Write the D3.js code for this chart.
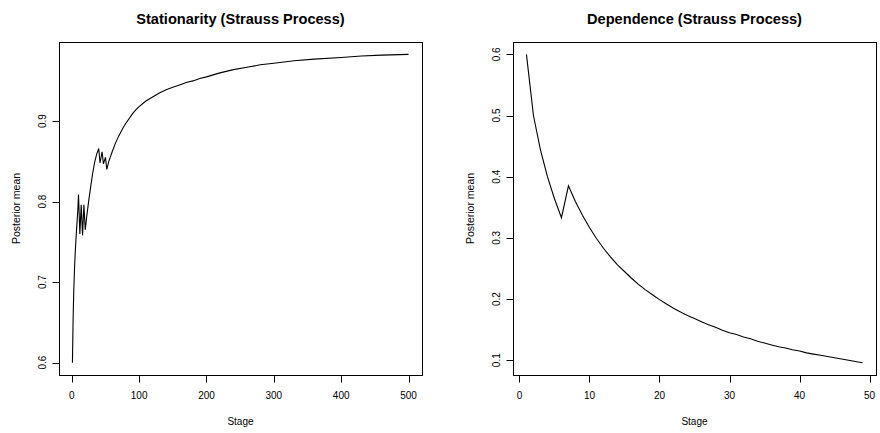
<!DOCTYPE html>
<html>
<head>
<meta charset="utf-8">
<script src="https://cdn.jsdelivr.net/npm/d3@7"></script>
<style>
  body { margin: 0; background: #fff; }
  text { font-family: "Liberation Sans", Arial, Helvetica, sans-serif; fill: #000; }
</style>
</head>
<body>
<svg id="chart" width="880" height="433"></svg>
<script>
// Stationarity panel
var statStage = [1, 2, 3, 4, 5, 6, 7, 8, 9, 10, 12, 14, 16, 18, 20, 22, 25, 28, 31, 34, 37, 40,
  42, 45, 47, 50, 52, 55, 60, 65, 70, 75, 80, 85, 90, 95, 100, 110, 120, 130, 140, 150, 160,
  170, 180, 190, 200, 220, 240, 260, 280, 300, 330, 360, 400, 430, 460, 500];
var statMean = [0.600, 0.655, 0.690, 0.715, 0.735, 0.750, 0.764, 0.777, 0.790, 0.809, 0.760,
  0.796, 0.758, 0.796, 0.765, 0.780, 0.800, 0.818, 0.835, 0.849, 0.859, 0.866, 0.848, 0.862,
  0.847, 0.855, 0.840, 0.850, 0.862, 0.873, 0.882, 0.890, 0.897, 0.903, 0.909, 0.914, 0.918,
  0.925, 0.930, 0.935, 0.939, 0.942, 0.945, 0.948, 0.950, 0.953, 0.955, 0.960, 0.964, 0.967,
  0.970, 0.972, 0.975, 0.977, 0.979, 0.981, 0.982, 0.983];

// Dependence panel, stages 1..49
var depStage = d3.range(1, 50);
var depMean = [0.600, 0.500, 0.444, 0.400, 0.364, 0.333, 0.385, 0.359, 0.337, 0.317, 0.299,
  0.283, 0.269, 0.256, 0.245, 0.234, 0.224, 0.215, 0.207, 0.199, 0.192, 0.185, 0.179, 0.173,
  0.168, 0.163, 0.158, 0.154, 0.149, 0.145, 0.142, 0.138, 0.135, 0.131, 0.128, 0.125, 0.122,
  0.120, 0.117, 0.115, 0.112, 0.110, 0.108, 0.106, 0.104, 0.102, 0.100, 0.098, 0.096];

var statXTicks = [0, 100, 200, 300, 400, 500];
var statYTicks = [0.6, 0.7, 0.8, 0.9];
var depXTicks = [0, 10, 20, 30, 40, 50];
var depYTicks = [0.1, 0.2, 0.3, 0.4, 0.5, 0.6];

var svg = d3.select('#chart');

// R style 4% padding on the data range
function padded(vals) {
  var ext = d3.extent(vals), r = ext[1] - ext[0];
  return [ext[0] - 0.04 * r, ext[1] + 0.04 * r];
}

function panel(offX, title, xs, ys, xTicks, yTicks) {
  var left = 59 + offX, right = 422 + offX, top = 42, bottom = 375;

  var x = d3.scaleLinear().domain(padded(xs)).range([left, right]);
  var y = d3.scaleLinear().domain(padded(ys)).range([bottom, top]);

  var g = svg.append('g');

  //Box round the plot region
  g.append('rect')
    .attr('x', left + 0.5).attr('y', top + 0.5)
    .attr('width', right - left).attr('height', bottom - top)
    .attr('fill', 'none').attr('stroke', '#000').attr('stroke-width', 1);

  //x ticks and labels
  g.selectAll('.xt').data(xTicks).enter().append('line')
    .attr('x1', function(d) { return Math.round(x(d)) + 0.5; })
    .attr('x2', function(d) { return Math.round(x(d)) + 0.5; })
    .attr('y1', bottom + 0.5).attr('y2', bottom + 7.5)
    .attr('stroke', '#000');
  g.selectAll('.xl').data(xTicks).enter().append('text')
    .attr('x', function(d) { return x(d); })
    .attr('y', bottom + 23.5)
    .attr('text-anchor', 'middle')
    .style('font-size', '10px')
    .text(function(d) { return d; });

  //y ticks and labels, labels run along the axis
  g.selectAll('.yt').data(yTicks).enter().append('line')
    .attr('x1', left + 0.5).attr('x2', left - 6.5)
    .attr('y1', function(d) { return Math.round(y(d)) + 0.5; })
    .attr('y2', function(d) { return Math.round(y(d)) + 0.5; })
    .attr('stroke', '#000');
  g.selectAll('.yl').data(yTicks).enter().append('text')
    .attr('transform', function(d) { return 'translate(' + (left - 13.3) + ',' + y(d) + ') rotate(-90)'; })
    .attr('text-anchor', 'middle')
    .style('font-size', '10px')
    .text(function(d) { return d3.format('.1f')(d); });

  //The series
  var line = d3.line()
    .x(function(d) { return x(d[0]); })
    .y(function(d) { return y(d[1]); });
  g.append('path')
    .datum(d3.zip(xs, ys))
    .attr('d', line)
    .attr('fill', 'none')
    .attr('stroke', '#000')
    .attr('stroke-width', 1.1)
    .attr('stroke-linejoin', 'miter');

  //Titles
  g.append('text')
    .attr('x', (left + right) / 2).attr('y', 24)
    .attr('text-anchor', 'middle')
    .style('font-size', '14.6px').style('font-weight', 'bold')
    .text(title);
  g.append('text')
    .attr('x', (left + right) / 2).attr('y', 424.5)
    .attr('text-anchor', 'middle')
    .style('font-size', '10px')
    .text('Stage');
  g.append('text')
    .attr('transform', 'translate(' + (left - 39) + ',' + ((top + bottom) / 2) + ') rotate(-90)')
    .attr('text-anchor', 'middle')
    .style('font-size', '10.5px')
    .text('Posterior mean');
}

panel(0, 'Stationarity (Strauss Process)', statStage, statMean, statXTicks, statYTicks);
panel(454, 'Dependence (Strauss Process)', depStage, depMean, depXTicks, depYTicks);
</script>
</body>
</html>
